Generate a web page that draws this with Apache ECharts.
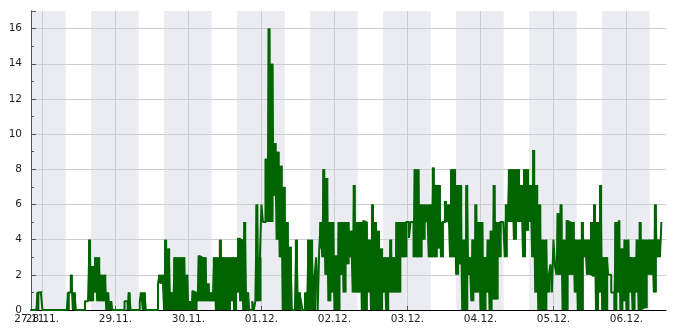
<!DOCTYPE html>
<html><head><meta charset="utf-8">
<script src="https://cdn.jsdelivr.net/npm/echarts@6/dist/echarts.min.js"></script>
<style>html,body{margin:0;padding:0;background:#fff}#c{width:685px;height:330px}</style>
</head><body><div id="c"></div>
<script>
// hourly buckets starting 27.11. 20:00 (each bucket: low and high reading)
const bucketStart = Date.UTC(2023, 10, 27, 20, 0);
const axisStart = Date.UTC(2023, 10, 27, 20, 15);
const axisEnd = Date.UTC(2023, 11, 6, 13, 0);

const lowValues = [
  0,0,0,1,0,0,0,0,0,0,0,0,0,1,0,0,0,0,0.5,0.5,0.5,1,0.5,0.5,0.5,0,
  0,0,0,0,0,0.5,0,0,0,0,0.5,0,0,0,0,0,1.5,1.5,0,0,0,0,0,0,0,
  0,0,0,0,0.5,0.5,0.5,0.5,0.5,0.5,0,0,0,0,0,0.5,0,1,0.5,0,0,0,0.5,0.5,0.5,
  6,5,5,5,6.5,4,3,0,0,0,0,0,0,0.5,0,0,0,0,3,3.5,3,2,0.5,1,0,0,2,1,2.6,3,
  1,1,1,0,0,1,0,0,0,0,1,0,1,1,1,1,3,3,5,5,3,3,3,4,5,3,3,3,3.5,3,5,5,3,3,2,2.6,
  0,0,2,0.5,1,1,0,0,1,0,0.6,0.6,3,5,3,5,5,4,5,5,3,4.5,5,3,1,0,0,0,1,2.6,4,2,2,
  0,0,2,2,1,0,0,3,2,2,1.9,0,1,0,0,2,1,0,1,0,0.5,0,1,0,1,0,0,0.1,2,2,1,3,3
];
const highValues = [
  0,0,1,1.1,0,0,0,0,0,0,0,0,1,2,1,0,0,0,0.5,4,2.5,3,3,2,2,1,
  0.5,0,0,0,0,0.5,1,0,0,0,1,1,0,0,0,0,2,2,4,3.5,1,3,3,3,3,
  2,0.5,1.1,1,3.1,3,3,1.5,1,3,3,4,3,3,3,3,3,4.1,4,5,1,0,0,6,3,5,8.6,
  16,14,9.5,9,8.2,7,5,3.6,0,4,1,0,1,4,4,2,0,5,8,7.5,5,5,3.1,5,5,5,5,4.5,7.1,5,
  5,5.1,5,4,6,5,4.5,3.5,3,3,4,3,5,5,5,5,4.1,5,8,8,6,6,6,6,8.1,7.1,7.1,5,6.2,6,8,8,7.1,7.1,4,7.1,
  3,4,6,5,5,3,4,4.5,7.1,5,5,5,6,8,8,8,8,7.1,8,8,7.1,9.1,7.1,6,4,4,2,1,2.5,5.5,6,4,5.1,
  5,5,4,4,5,4,4,5,6,5,7.1,3,3,2,1,5,5.1,3.5,4,4,3,3,4,5,4,4,4,4,6,4,5,4,3.5
];

const dayLabelFormat = v => {
  const d = new Date(v);
  const p = n => String(n).padStart(2, '0');
  return p(d.getUTCDate()) + '.' + p(d.getUTCMonth() + 1) + '.';
};

// nights (shaded): 16:00 to 07:40 next day
const nightFirstDay = Date.UTC(2023, 10, 27);
const nightCount = 9;
const nightStartHour = 16;
const nightEndHour = 24 + 7 + 40 / 60;

const n = Math.min(lowValues.length, highValues.length);
const points = [], envBase = [], envSpan = [];
for (let i = 0; i < n; i++) {
  const t = bucketStart + i * 3600e3;
  points.push([t, lowValues[i]]);
  points.push([t + 1800e3, highValues[i]]);
  envBase.push([t, lowValues[i]]);
  envSpan.push([t, highValues[i] - lowValues[i]]);
}
const nights = [];
for (let i = 0; i < nightCount; i++) {
  const base = nightFirstDay + i * 864e5;
  nights.push([
    { xAxis: Math.max(axisStart, base + nightStartHour * 3600e3) },
    { xAxis: Math.min(axisEnd, base + nightEndHour * 3600e3) }
  ]);
}

const green = '#006400';
const font = 'DejaVu Sans';
const labelStyle = { color: '#222', fontSize: 10.5, fontFamily: font };
const chart = echarts.init(document.getElementById('c'), null, { renderer: 'canvas' });
chart.setOption({
  useUTC: true,
  animation: false,
  backgroundColor: '#fff',
  grid: { left: 31, right: 19, top: 11, bottom: 20 },
  xAxis: [{
    type: 'time',
    min: axisStart,
    max: axisEnd,
    minInterval: 864e5,
    maxInterval: 864e5,
    axisLine: { show: true, lineStyle: { color: '#000', width: 1 } },
    axisTick: { show: true, inside: true, length: 4, lineStyle: { color: '#000' } },
    splitLine: { show: true, showMinLine: false, showMaxLine: false, lineStyle: { color: '#cccccc', width: 1 } },
    axisLabel: Object.assign({ formatter: dayLabelFormat, margin: 4, showMinLabel: false, showMaxLabel: false }, labelStyle)
  }, {
    // only carries the start-date label at the axis origin
    type: 'value',
    position: 'bottom',
    min: axisStart,
    max: axisEnd,
    interval: axisEnd - axisStart,
    axisLine: { show: false },
    axisTick: { show: false },
    splitLine: { show: false },
    axisLabel: Object.assign({ formatter: dayLabelFormat, margin: 4, showMinLabel: true, showMaxLabel: false }, labelStyle)
  }],
  yAxis: {
    type: 'value',
    min: 0,
    max: 17,
    interval: 2,
    axisLine: { show: true, lineStyle: { color: '#000', width: 1 } },
    axisTick: { show: true, inside: true, length: 5, lineStyle: { color: '#000' } },
    minorTick: { show: true, splitNumber: 2, length: 3, lineStyle: { color: '#000' } },
    splitLine: { show: true, showMaxLine: false, lineStyle: { color: '#cccccc', width: 1 } },
    axisLabel: Object.assign({ margin: 9, showMaxLabel: false }, labelStyle)
  },
  series: [{
    type: 'line',
    xAxisIndex: 0,
    data: envBase,
    stack: 'env',
    step: 'end',
    showSymbol: false,
    clip: true,
    lineStyle: { width: 0, opacity: 0 },
    z: 2,
    markArea: {
      silent: true,
      itemStyle: { color: 'rgba(205,208,222,0.4)' },
      data: nights
    }
  }, {
    type: 'line',
    xAxisIndex: 0,
    data: envSpan,
    stack: 'env',
    step: 'end',
    showSymbol: false,
    clip: true,
    lineStyle: { width: 0, opacity: 0 },
    areaStyle: { color: green, opacity: 1 },
    z: 2
  }, {
    type: 'line',
    xAxisIndex: 0,
    data: points,
    step: 'end',
    showSymbol: false,
    sampling: null,
    clip: true,
    lineStyle: { color: green, width: 2 },
    z: 3
  }]
});
</script></body></html>
